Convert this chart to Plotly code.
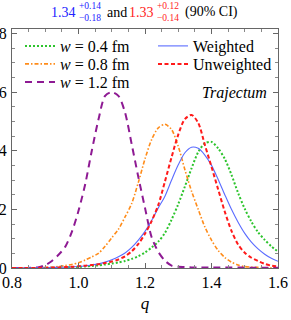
import plotly.graph_objects as go

q = [0.80, 0.82, 0.84, 0.86, 0.88, 0.90, 0.92, 0.94, 0.96, 0.98,
     1.00, 1.02, 1.04, 1.06, 1.08, 1.10, 1.12, 1.14, 1.16, 1.18,
     1.20, 1.22, 1.24, 1.26, 1.28, 1.30, 1.32, 1.34, 1.36, 1.38,
     1.40, 1.42, 1.44, 1.46, 1.48, 1.50, 1.52, 1.54, 1.56, 1.58, 1.60]

w04 = [0.00, 0.00, 0.00, 0.00, 0.00, 0.00, 0.00, 0.01, 0.02, 0.03,
       0.04, 0.05, 0.07, 0.09, 0.12, 0.15, 0.19, 0.24, 0.31, 0.40,
       0.53, 0.70, 0.90, 1.20, 1.65, 2.18, 2.78, 3.40, 3.95, 4.25,
       4.30, 4.08, 3.72, 3.18, 2.56, 2.02, 1.58, 1.22, 0.96, 0.74, 0.56]

w08 = [0.00, 0.00, 0.00, 0.01, 0.01, 0.02, 0.03, 0.05, 0.08, 0.12,
       0.18, 0.27, 0.38, 0.50, 0.74, 1.03, 1.32, 1.74, 2.20, 2.92,
       3.72, 4.38, 4.78, 4.90, 4.72, 4.15, 3.35, 2.62, 2.00, 1.40,
       0.95, 0.60, 0.36, 0.20, 0.10, 0.05, 0.03, 0.02, 0.01, 0.01, 0.01]

w12 = [0.00, 0.00, 0.00, 0.01, 0.03, 0.10, 0.24, 0.45, 0.72, 1.23,
       1.95, 2.85, 4.00, 5.06, 5.87, 6.00, 5.87, 5.30, 4.22, 3.10,
       2.05, 1.05, 0.55, 0.25, 0.08, 0.04, 0.03, 0.02, 0.02, 0.02,
       0.02, 0.02, 0.02, 0.02, 0.02, 0.01, 0.01, 0.01, 0.01, 0.01, 0.01]

weighted = [0.00, 0.00, 0.00, 0.00, 0.01, 0.01, 0.02, 0.02, 0.03, 0.04,
            0.05, 0.07, 0.10, 0.14, 0.20, 0.28, 0.38, 0.51, 0.70, 0.95,
            1.25, 1.62, 2.05, 2.45, 3.00, 3.52, 3.93, 4.12, 4.08, 3.85,
            3.50, 3.02, 2.50, 2.00, 1.56, 1.18, 0.88, 0.65, 0.47, 0.33, 0.23]

unweighted = [0.00, 0.00, 0.00, 0.00, 0.00, 0.01, 0.01, 0.02, 0.03, 0.04,
              0.06, 0.08, 0.10, 0.13, 0.17, 0.22, 0.29, 0.40, 0.57, 0.82,
              1.17, 1.60, 2.15, 2.95, 3.78, 4.55, 5.08, 5.22, 4.95, 4.20,
              3.45, 2.68, 1.92, 1.27, 0.80, 0.52, 0.35, 0.24, 0.14, 0.08, 0.05]

x_ticks = [0.8, 1.0, 1.2, 1.4, 1.6]
y_ticks = [0, 2, 4, 6, 8]

SERIF = "Liberation Serif"
GREEN = "#2DC42D"
ORANGE = "#FF8C1A"
PURPLE = "#8E1A93"
BLUE = "#5A6BFF"
RED = "#FF1A1A"

# pixel helpers for layout placement (plot area: x 12..278, y 29..268)
def px(xp):
    return (xp - 12) / 266.0

def py(yp):
    return (268 - yp) / 239.0

fig = go.Figure()

series = [
    ("<i>w</i> = 0.4 fm", w04, dict(color=GREEN, width=2, dash="2px,2px"), "legend", 20, 45),
    ("<i>w</i> = 0.8 fm", w08, dict(color=ORANGE, width=1.6, dash="4px,2px,1.5px,2px"), "legend2", 20, 63),
    ("<i>w</i> = 1.2 fm", w12, dict(color=PURPLE, width=2, dash="7px,5px"), "legend3", 20, 81),
    ("Weighted", weighted, dict(color=BLUE, width=1.1), "legend4", 153, 45),
    ("Unweighted", unweighted, dict(color=RED, width=2, dash="4px,2.5px"), "legend5", 153, 63),
]

leg_font = dict(family=SERIF, size=16, color="black")
legends = {}
for name, vals, ln, leg, lx, ly in series:
    fig.add_trace(go.Scatter(x=q, y=vals, mode="lines", name=name, showlegend=True,
                             line=dict(shape="spline", smoothing=0.8, **ln), legend=leg))
    legends[leg] = dict(x=px(lx), y=py(ly - 16), xanchor="left", yanchor="top",
                        bgcolor="rgba(0,0,0,0)", font=leg_font, itemwidth=30,
                        tracegroupgap=0, borderwidth=0, visible=True)

axis_common = dict(
    automargin=False,
    showgrid=False, zeroline=False, showline=True, linecolor="#666666", linewidth=1,
    mirror="allticks", ticks="inside", ticklen=5, tickwidth=0.8, tickcolor="#666666",
    tickfont=dict(family=SERIF, size=16, color="black"),
)

fig.update_xaxes(range=[0.8, 1.6], tickvals=x_ticks, ticktext=[f"{v:.1f}" for v in x_ticks],
                 minor=dict(dtick=0.05, ticks="inside", ticklen=3, tickcolor="#888888"),
                 title=dict(text="<i>q</i>", font=dict(family=SERIF, size=17, color="black"), standoff=6),
                 **axis_common)
fig.update_yaxes(range=[0, 8.15], tickvals=y_ticks, ticktext=[str(v) for v in y_ticks],
                 minor=dict(dtick=0.5, ticks="inside", ticklen=3, tickcolor="#888888"),
                 ticklabelstandoff=1,
                 **axis_common)

fig.update_layout(
    template="none",
    showlegend=True,
    width=291, height=320,
    margin=dict(l=12, r=13, t=29, b=52, autoexpand=False),
    paper_bgcolor="white", plot_bgcolor="white",
    font=dict(family=SERIF),
    **legends,
)

# Trajectum label
fig.add_annotation(x=1.468, y=5.97, xref="x", yref="y", text="<i>Trajectum</i>",
                   showarrow=False, font=dict(family=SERIF, size=16, color="black"))

main_font = 14
sc_font = 9.5
TBLUE = "#2222FF"
TRED = "#FF2222"
title_parts = [
    ("1.34", TBLUE, 77, "right", 12, main_font, None),
    ("+0.14", TBLUE, 78, "left", 6, sc_font, 8),
    ("\u22120.18", TBLUE, 78, "left", 17.5, sc_font, 8),
    ("and", "black", 106, "left", 12, main_font, None),
    ("1.33", TRED, 155, "right", 12, main_font, None),
    ("+0.12", TRED, 156, "left", 6, sc_font, 8),
    ("\u22120.14", TRED, 156, "left", 17.5, sc_font, 8),
    ("(90% CI)", "black", 184, "left", 12, main_font, None),
]
for txt, col, xp, anch, yp, fs, h in title_parts:
    kw = dict(height=h) if h else {}
    fig.add_annotation(x=px(xp), y=py(yp), xref="paper", yref="paper", text=txt,
                       showarrow=False, xanchor=anch, yanchor="middle", borderpad=0,
                       font=dict(family=SERIF, size=fs, color=col), **kw)

fig.write_html("out.html", config={"displayModeBar": False},
               post_script="document.body.style.margin='0';")
